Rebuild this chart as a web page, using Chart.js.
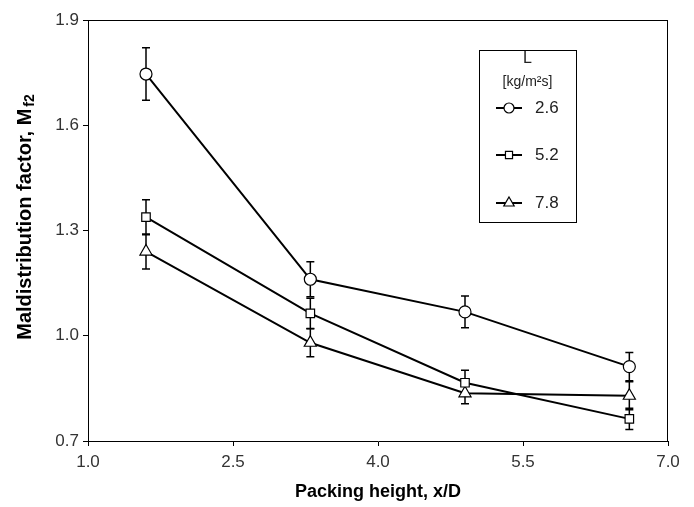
<!DOCTYPE html>
<html>
<head>
<meta charset="utf-8">
<script src="https://cdn.jsdelivr.net/npm/chart.js@4/dist/chart.umd.min.js"></script>
<style>
  body { margin: 0; background: #fff; }
  #wrap { width: 694px; height: 507px; }
</style>
</head>
<body>
<div id="wrap"><canvas id="theChart"></canvas></div>
<script>
// packing height x/D
const xValues = [1.6, 3.3, 4.9, 6.6];

// L = 2.6 kg/m2s
const l26 = [1.746, 1.161, 1.068, 0.912];
const err26 = [0.075, 0.05, 0.045, 0.04];
// L = 5.2
const l52 = [1.338, 1.064, 0.866, 0.763];
const err52 = [0.05, 0.043, 0.036, 0.03];
// L = 7.8
const l78 = [1.24, 0.98, 0.836, 0.829];
const err78 = [0.05, 0.04, 0.03, 0.04];

const seriesLabels = ["2.6", "5.2", "7.8"];
const xTicks = [1.0, 2.5, 4.0, 5.5, 7.0];
const yTicks = [0.7, 1.0, 1.3, 1.6, 1.9];

const FONT = "'Liberation Sans', Arial, sans-serif";

function makeSet(label, ys, errs, style) {
  return {
    label: label,
    data: xValues.map((x, i) => ({ x: x, y: ys[i] })),
    errors: errs,
    borderColor: "#000",
    borderWidth: 2,
    lineTension: 0,
    fill: false,
    pointStyle: style,
    pointRadius: style === "triangle" ? 7 : 6,
    pointBackgroundColor: "#fff",
    pointBorderColor: "#000",
    pointBorderWidth: 1.2,
  };
}

const errorBars = {
  id: "errorBars",
  beforeDatasetsDraw(chart) {
    const ctx = chart.ctx;
    const xs = chart.scales.x, ys = chart.scales.y;
    ctx.save();
    ctx.strokeStyle = "#000";
    ctx.lineWidth = 1.5;
    chart.data.datasets.forEach((ds) => {
      ds.data.forEach((p, i) => {
        const e = ds.errors[i];
        const px = xs.getPixelForValue(p.x);
        const top = ys.getPixelForValue(p.y + e);
        const bot = ys.getPixelForValue(p.y - e);
        ctx.beginPath();
        ctx.moveTo(px, top); ctx.lineTo(px, bot);
        ctx.moveTo(px - 4, top); ctx.lineTo(px + 4, top);
        ctx.moveTo(px - 4, bot); ctx.lineTo(px + 4, bot);
        ctx.stroke();
      });
    });
    ctx.restore();
  },
};

const frameAndText = {
  id: "frameAndText",
  afterDraw(chart) {
    const ctx = chart.ctx;
    const a = chart.chartArea;
    ctx.save();
    // top and right frame
    ctx.strokeStyle = "#000";
    ctx.lineWidth = 1;
    ctx.beginPath();
    ctx.moveTo(a.left, a.top + 0.5); ctx.lineTo(a.right, a.top + 0.5);
    ctx.moveTo(a.right - 0.5, a.top); ctx.lineTo(a.right - 0.5, a.bottom);
    ctx.stroke();

    // y axis title with subscript
    ctx.fillStyle = "#000";
    ctx.translate(25, 218);
    ctx.rotate(-Math.PI / 2);
    const main = "Maldistribution factor, M";
    ctx.font = "bold 20px " + FONT;
    const w1 = ctx.measureText(main).width;
    ctx.font = "bold 14px " + FONT;
    const w2 = ctx.measureText("f2").width;
    const start = -(w1 + w2) / 2;
    ctx.textBaseline = "middle";
    ctx.textAlign = "left";
    ctx.font = "bold 20px " + FONT;
    ctx.fillText(main, start, 0);
    ctx.font = "bold 14px " + FONT;
    ctx.fillText("f2", start + w1 + 2, 5);
    ctx.restore();

    // legend box
    ctx.save();
    const bx = 479, by = 50, bw = 97, bh = 172;
    ctx.strokeStyle = "#000";
    ctx.lineWidth = 1;
    ctx.strokeRect(bx + 0.5, by + 0.5, bw, bh);
    ctx.fillStyle = "#222";
    ctx.textAlign = "center";
    ctx.textBaseline = "middle";
    ctx.font = "16px " + FONT;
    ctx.fillText("L", bx + bw / 2, 59);
    ctx.font = "14px " + FONT;
    ctx.fillText("[kg/m\u00B2s]", bx + bw / 2, 82);
    const rows = [108, 155, 203];
    chart.data.datasets.forEach((ds, i) => {
      const y = rows[i];
      ctx.strokeStyle = "#000";
      ctx.lineWidth = 2;
      ctx.beginPath();
      ctx.moveTo(496, y); ctx.lineTo(522, y);
      ctx.stroke();
      ctx.fillStyle = "#fff";
      ctx.lineWidth = 1.2;
      Chart.helpers.drawPoint(ctx, {
        pointStyle: ds.pointStyle,
        radius: ds.pointStyle === "triangle" ? 6 : 5,
        rotation: 0,
        borderWidth: 1.2,
      }, 509, y);
      ctx.fillStyle = "#222";
      ctx.textAlign = "left";
      ctx.font = "17px " + FONT;
      ctx.fillText(seriesLabels[i], 535, y);
    });
    ctx.restore();
  },
};

const config = {
  type: "line",
  data: {
    datasets: [
      makeSet("2.6", l26, err26, "circle"),
      makeSet("5.2", l52, err52, "rect"),
      makeSet("7.8", l78, err78, "triangle"),
    ],
  },
  options: {
    responsive: true,
    maintainAspectRatio: false,
    animation: false,
    layout: { padding: { top: 20, right: 26, left: 0, bottom: 0 } },
    plugins: {
      legend: { display: false },
      tooltip: { enabled: false },
    },
    scales: {
      x: {
        type: "linear",
        min: 1,
        max: 7,
        afterBuildTicks: (s) => { s.ticks = xTicks.map((v) => ({ value: v })); },
        afterFit: (s) => { s.height = 66; },
        ticks: {
          color: "#333",
          font: { family: FONT, size: 17 },
          padding: 6,
          maxRotation: 0,
          callback: (v) => v.toFixed(1),
        },
        grid: { drawOnChartArea: false, drawTicks: true, tickLength: 5, color: "#000" },
        border: { display: true, color: "#000", width: 1 },
        title: {
          display: true,
          text: "Packing height, x/D",
          color: "#000",
          font: { family: FONT, size: 18, weight: "bold" },
          padding: { top: 8 },
        },
      },
      y: {
        type: "linear",
        min: 0.7,
        max: 1.9,
        afterBuildTicks: (s) => { s.ticks = yTicks.map((v) => ({ value: v })); },
        afterFit: (s) => { s.width = 88; },
        ticks: {
          color: "#333",
          font: { family: FONT, size: 17 },
          padding: 4,
          callback: (v) => v.toFixed(1),
        },
        grid: { drawOnChartArea: false, drawTicks: true, tickLength: 5, color: "#000" },
        border: { display: true, color: "#000", width: 1 },
      },
    },
  },
  plugins: [errorBars, frameAndText],
};

const theChart = new Chart(document.getElementById("theChart"), config);
</script>
</body>
</html>
